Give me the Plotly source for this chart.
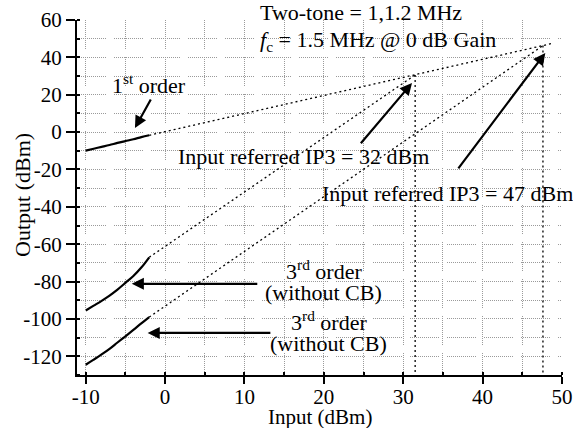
import plotly.graph_objects as go

# ---- data ----
input_dbm = [-10, -9, -8, -7, -6, -5, -4, -3, -2]
first_order = [-9.9, -8.9, -7.9, -6.9, -5.8, -4.8, -3.8, -2.7, -1.7]
third_order_a = [-95.5, -92.9, -90.3, -87.5, -84.3, -80.7, -77.0, -72.5, -67.0]
third_order_b = [-124.5, -121.8, -119.0, -116.0, -112.6, -109.3, -105.9, -102.4, -99.0]

first_ext_x = [-2, 48.8]
first_ext_y = [-1.7, 47.5]
third_a_ext_x = [-2, 31.5]
third_a_ext_y = [-67.0, 30.6]
third_b_ext_x = [-2, 47.6]
third_b_ext_y = [-99.0, 46.3]
ip3_a = 31.5
ip3_b = 47.6

x_ticks = [-10, 0, 10, 20, 30, 40, 50]
x_ticktext = ["-10", "0", "10", "20", "30", "40", "50"]
y_ticks = [-120, -100, -80, -60, -40, -20, 0, 20, 40, 60]
y_ticktext = ["-120", "-100", "-80", "-60", "-40", "-20", "0", "20", "40", "60"]

FONT = "Liberation Serif"
dotted = "2px,3px"
grid_dash = ",".join(["1px"] * 28) + ",1px,8px"

fig = go.Figure()

def solid(x, y):
    fig.add_trace(go.Scatter(x=x, y=y, mode="lines",
                             line=dict(color="black", width=2.2, shape="spline"),
                             showlegend=False, hoverinfo="skip"))

def dot(x, y):
    fig.add_trace(go.Scatter(x=x, y=y, mode="lines", line=dict(color="black", width=1.3, dash=dotted),
                             showlegend=False, hoverinfo="skip"))

dot(first_ext_x, first_ext_y)
dot(third_a_ext_x, third_a_ext_y)
dot(third_b_ext_x, third_b_ext_y)
dot([ip3_a, ip3_a], [third_a_ext_y[-1], -130])
dot([ip3_b, ip3_b], [third_b_ext_y[-1], -130])
solid(input_dbm, first_order)
solid(input_dbm, third_order_a)
solid(input_dbm, third_order_b)

tf = dict(family=FONT, size=22, color="black")
ann = []

def text(x, y, s, xanchor="center", yanchor="middle", ref="data", angle=0, size=22):
    r = dict(xref="x", yref="y") if ref == "data" else dict(xref="paper", yref="paper")
    ann.append(dict(x=x, y=y, text=s, showarrow=False, textangle=angle,
                    xanchor=xanchor, yanchor=yanchor, font=dict(tf, size=size), **r))

def arrow(x0, y0, x1, y1):
    ann.append(dict(x=x1, y=y1, ax=x0, ay=y0, xref="x", yref="y", axref="x", ayref="y",
                    text="", showarrow=True, arrowhead=2, arrowsize=1.1, arrowwidth=2.2,
                    arrowcolor="black", standoff=0, startstandoff=0))

# titles of the axes
text(0.5, -0.119, "Input (dBm)", ref="paper", size=21)
text(-0.1135, 0.507, "Output (dBm)", ref="paper", angle=-90)

text(0.3734, 1.0225, "Two-tone = 1,1.2 MHz", xanchor="left", ref="paper")
text(11.7, 48.8, "<i>f</i><sub>c</sub> = 1.5 MHz @ 0 dB Gain", xanchor="left")
text(-2.0, 25.8, "1<sup>st</sup> order")
arrow(-1.7, 18.3, -3.8, 2.2)
text(17.4, -13.3, "Input referred IP3 = 32 dBm")
arrow(24.5, -6.8, 31.1, 26.3)
text(35.6, -33.0, "Input referred IP3 = 47 dBm")
arrow(36.8, -20.2, 47.9, 42.4)
text(20.0, -74.0, "3<sup>rd</sup> order")
text(20.0, -86.0, "(without CB)")
arrow(11.8, -81.2, -4.2, -81.2)
text(20.6, -101.0, "3<sup>rd</sup> order")
text(20.6, -113.0, "(without CB)")
arrow(13.45, -107.5, -2.2, -107.5)

grid = dict(showgrid=True, gridcolor="#9a9a9a", gridwidth=1, griddash=grid_dash)
axis_common = dict(ticks="outside", tickwidth=1.5, tickcolor="black",
                   showline=True, linecolor="black", linewidth=2, showgrid=False,
                   zeroline=False, automargin=False, tickfont=dict(family=FONT, size=21))

fig.update_layout(
    width=573, height=428,
    margin=dict(l=77, r=11, t=20, b=53),
    paper_bgcolor="white", plot_bgcolor="white",
    font=dict(family=FONT, size=21, color="black"),
    annotations=ann,
    xaxis=dict(range=[-11.1, 50], tickvals=x_ticks, ticktext=x_ticktext, ticklen=7,
               ticklabelstandoff=-5, **axis_common,
               minor=dict(dtick=5, tick0=-10, ticks="inside", ticklen=3, tickcolor="black", **grid)),
    yaxis=dict(range=[-130, 60], tickvals=y_ticks, ticktext=y_ticktext, ticklen=9, **axis_common,
               minor=dict(dtick=10, tick0=0, ticks="inside", ticklen=3, tickcolor="black", **grid)),
)

# remove the page's default body margin so the figure fills the window exactly
fig.write_html("out.html", config={"displayModeBar": False},
               post_script="document.body.style.margin='0';document.body.style.overflow='hidden';")
